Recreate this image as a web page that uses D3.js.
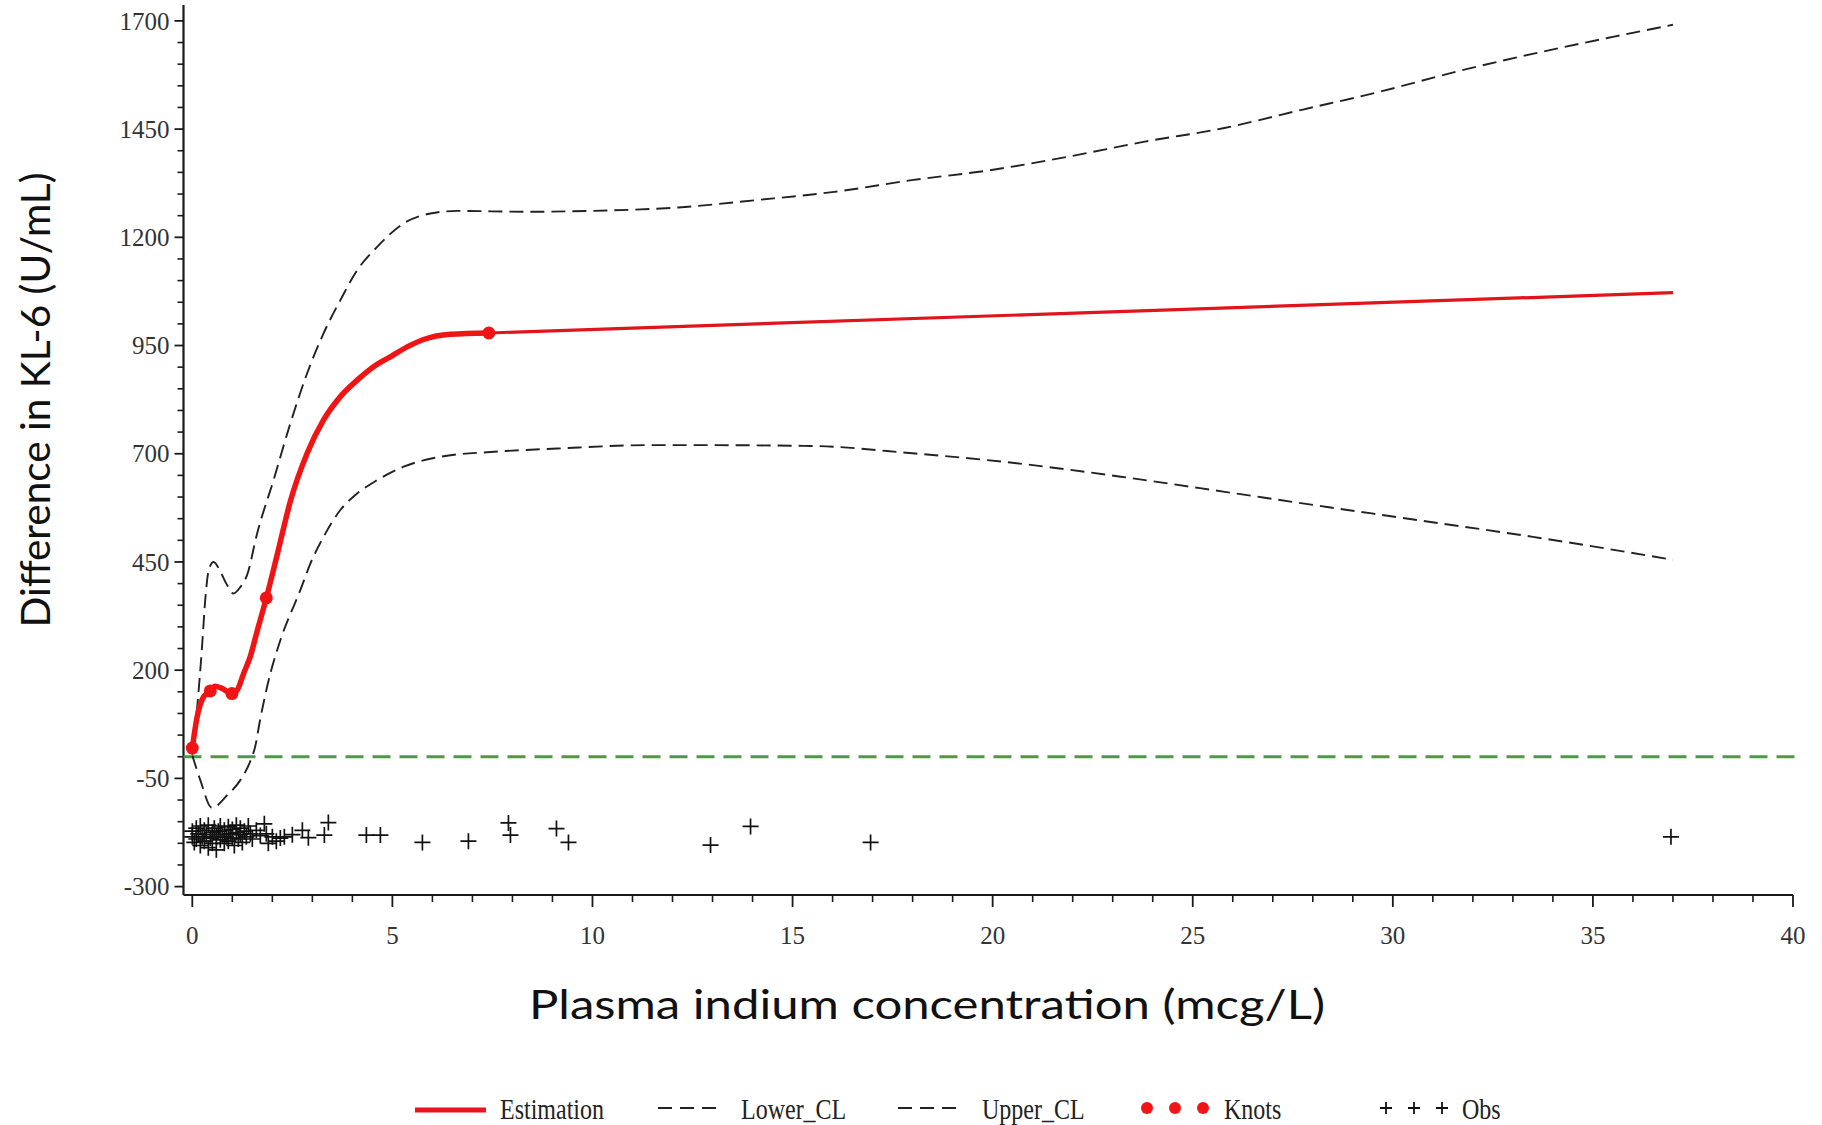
<!DOCTYPE html>
<html>
<head>
<meta charset="utf-8">
<script src="https://cdn.jsdelivr.net/npm/d3@7"></script>
<style>
  html, body { margin: 0; padding: 0; background: #ffffff; }
  svg { display: block; }
</style>
</head>
<body>
<script>
// ---------------- DATA ----------------
const xTickValues = [0, 5, 10, 15, 20, 25, 30, 35, 40];
const yTickValues = [-300, -50, 200, 450, 700, 950, 1200, 1450, 1700];

// Estimation curve (x, value)
const estX = [0, 0.12, 0.28, 0.41, 0.57, 0.74, 0.99, 1.12, 1.28, 1.45, 1.62, 1.85, 2.12, 2.45, 2.87, 3.28, 3.7, 4.12, 4.53, 4.95, 5.37, 5.78, 6.45, 7.41, 37];
const estY = [20, 92, 138, 148, 163, 158, 146, 154, 192, 232, 290, 367, 466, 590, 701, 778, 832, 870, 901, 924, 947, 964, 976, 979, 1072];

// Knots
const knotX = [0, 0.45, 0.99, 1.85, 7.41];
const knotY = [20, 152, 146, 367, 979];

// Upper confidence limit
const upperX = [0, 0.12, 0.24, 0.33, 0.41, 0.53, 0.7, 0.85, 1.03, 1.2, 1.37, 1.62, 2.03, 2.45, 2.87, 3.28, 3.7, 4.12, 4.62, 5.28, 5.95, 6.62, 8.28, 9.95, 12.15, 14.1, 16.04, 17.98, 19.93, 21.87, 23.8, 25.76, 27.7, 29.66, 31.6, 33.55, 35.5, 37];
const upperY = [5, 112, 250, 370, 431, 450, 428, 400, 377, 392, 420, 516, 639, 770, 886, 978, 1055, 1124, 1178, 1232, 1255, 1261, 1259, 1261, 1269, 1286, 1305, 1332, 1355, 1386, 1421, 1452, 1494, 1536, 1583, 1625, 1663, 1691];

// Lower confidence limit
const lowerX = [0, 0.2, 0.49, 0.87, 1.2, 1.45, 1.57, 1.7, 1.95, 2.2, 2.7, 2.95, 3.28, 3.7, 4.12, 4.62, 5.28, 6.2, 7.45, 9.12, 11.45, 12.35, 15.45, 18.0, 20.6, 23.2, 25.8, 28.36, 30.9, 33.5, 37];
const lowerY = [3, -54, -118, -89, -54, -10, 23, 88, 192, 269, 385, 446, 508, 570, 608, 639, 670, 693, 704, 712, 720, 720, 718, 701, 678, 647, 612, 577, 543, 508, 455];

// Observations
const obsX = [0.0, 0.0, 0.05, 0.1, 0.1, 0.15, 0.2, 0.2, 0.25, 0.3, 0.3, 0.35, 0.4, 0.4, 0.45, 0.5, 0.5, 0.55, 0.6, 0.6,
  0.65, 0.7, 0.7, 0.75, 0.8, 0.8, 0.85, 0.9, 0.9, 0.95, 1.0, 1.0, 1.05, 1.1, 1.1, 1.15, 1.2, 1.2, 1.25, 1.3,
  1.35, 1.4, 1.45, 1.5, 1.6, 1.7, 1.8, 1.85, 1.9, 2.0, 2.1, 2.2, 2.3, 2.5, 2.75, 2.9, 3.3, 3.4,
  4.35, 4.7, 5.75, 6.9, 7.9, 7.95, 9.1, 9.4, 12.95, 13.95, 16.95, 36.95];
const obsY = [-185, -172, -198, -165, -190, -178, -205, -160, -185, -170, -195, -180, -210, -158, -188, -175, -200, -165, -185, -215,
  -172, -192, -160, -180, -200, -170, -185, -162, -195, -178, -188, -168, -205, -175, -158, -190, -180, -165, -198, -172,
  -185, -160, -178, -190, -170, -182, -155, -178, -200, -185, -195, -188, -185, -180, -170, -187, -181, -152,
  -181, -181, -198, -195, -153, -181, -166, -198, -204, -161, -198, -185];

const referenceValue = [0];
const legendLabels = ["Estimation", "Lower_CL", "Upper_CL", "Knots", "Obs"];
const xTitle = "Plasma indium concentration (mcg/L)";
const yTitle = "Difference in KL-6 (U/mL)";

// ---------------- DRAW ----------------
const W = 1822, H = 1125;
const svg = d3.select("body").append("svg").attr("width", W).attr("height", H)
  .style("background", "#fff");

const x = d3.scaleLinear().domain([-0.22, 40]).range([183.5, 1793]);
const y = d3.scaleLinear().domain([-319.4, 1736.7]).range([895, 5]);

const serif = "'Liberation Serif', 'Times New Roman', serif";
const sans = "Lato, 'Open Sans', sans-serif";
const axisColor = "#1a1a1a";

// Y axis
const yAxis = svg.append("g").attr("transform", `translate(${x(-0.22)},0)`);
yAxis.append("line").attr("x1", 0).attr("x2", 0).attr("y1", y(1736.7)).attr("y2", y(-319.4))
  .attr("stroke", axisColor).attr("stroke-width", 2.2);
const yMinor = d3.range(-300, 1701, 50).filter(v => !yTickValues.includes(v));
yAxis.selectAll(".ymin").data(yMinor).enter().append("line")
  .attr("x1", -6).attr("x2", 0).attr("y1", d => y(d)).attr("y2", d => y(d))
  .attr("stroke", axisColor).attr("stroke-width", 1.6);
yAxis.selectAll(".ymaj").data(yTickValues).enter().append("line")
  .attr("x1", -9).attr("x2", 0).attr("y1", d => y(d)).attr("y2", d => y(d))
  .attr("stroke", axisColor).attr("stroke-width", 1.8);
yAxis.selectAll(".ylab").data(yTickValues).enter().append("text")
  .attr("x", -14).attr("y", d => y(d)).attr("dy", "0.35em")
  .attr("text-anchor", "end").attr("font-family", serif).attr("font-size", 25)
  .attr("fill", "#333").text(d => d);

// X axis
const xAxis = svg.append("g").attr("transform", `translate(0,${y(-319.4)})`);
xAxis.append("line").attr("x1", x(-0.22)).attr("x2", x(40)).attr("y1", 0).attr("y2", 0)
  .attr("stroke", axisColor).attr("stroke-width", 2.2);
const xMinor = d3.range(0, 41, 1).filter(v => !xTickValues.includes(v));
xAxis.selectAll(".xmin").data(xMinor).enter().append("line")
  .attr("x1", d => x(d)).attr("x2", d => x(d)).attr("y1", 0).attr("y2", 7)
  .attr("stroke", axisColor).attr("stroke-width", 1.6);
xAxis.selectAll(".xmaj").data(xTickValues).enter().append("line")
  .attr("x1", d => x(d)).attr("x2", d => x(d)).attr("y1", 0).attr("y2", 12)
  .attr("stroke", axisColor).attr("stroke-width", 1.8);
xAxis.selectAll(".xlab").data(xTickValues).enter().append("text")
  .attr("x", d => x(d)).attr("y", 49)
  .attr("text-anchor", "middle").attr("font-family", serif).attr("font-size", 25)
  .attr("fill", "#333").text(d => d);

// Axis titles
svg.append("text").attr("x", 927).attr("y", 1019).attr("text-anchor", "middle")
  .attr("font-family", sans).attr("font-size", 40).attr("fill", "#111")
  .attr("textLength", 796).attr("lengthAdjust", "spacingAndGlyphs").text(xTitle);
svg.append("text").attr("transform", "translate(50,400) rotate(-90)").attr("text-anchor", "middle")
  .attr("font-family", sans).attr("font-size", 40).attr("fill", "#111")
  .attr("textLength", 455).attr("lengthAdjust", "spacingAndGlyphs").text(yTitle);

// Reference line at 0
svg.selectAll(".ref").data(referenceValue).enter().append("line")
  .attr("x1", x(-0.22)).attr("x2", x(40.05)).attr("y1", d => y(d)).attr("y2", d => y(d))
  .attr("stroke", "#4b9b44").attr("stroke-width", 3.2).attr("stroke-dasharray", "18,9");

const line = d3.line().x(d => x(d[0])).y(d => y(d[1])).curve(d3.curveMonotoneX);

// Confidence limits
const upper = upperX.map((v, i) => [v, upperY[i]]);
const lower = lowerX.map((v, i) => [v, lowerY[i]]);
[upper, lower].forEach(data => {
  svg.append("path").datum(data).attr("d", line).attr("fill", "none")
    .attr("stroke", "#222").attr("stroke-width", 1.9).attr("stroke-dasharray", "14,7");
});

// Observations (plus markers)
const obs = obsX.map((v, i) => [v, obsY[i]]);
svg.selectAll(".obs").data(obs).enter().append("path")
  .attr("transform", d => `translate(${x(d[0])},${y(d[1])})`)
  .attr("d", "M-8,0H8M0,-8V8").attr("stroke", "#111").attr("stroke-width", 1.7).attr("fill", "none");

// Estimation
const est = estX.map((v, i) => [v, estY[i]]);
const lastKnot = knotX[knotX.length - 1];
const estCurve = est.filter(d => d[0] <= lastKnot);
const estLinear = est.filter(d => d[0] >= lastKnot);
svg.append("path").datum(estLinear).attr("d", line).attr("fill", "none")
  .attr("stroke", "#e0141a").attr("stroke-width", 3.2);
svg.append("path").datum(estCurve).attr("d", line).attr("fill", "none")
  .attr("stroke", "#f01414").attr("stroke-width", 5.5).attr("stroke-linejoin", "round").attr("stroke-linecap", "round");

// Knots
const knots = knotX.map((v, i) => [v, knotY[i]]);
svg.selectAll(".knot").data(knots).enter().append("circle")
  .attr("cx", d => x(d[0])).attr("cy", d => y(d[1])).attr("r", 6.5).attr("fill", "#f01414");

// Legend
const lg = svg.append("g").attr("font-family", serif).attr("font-size", 24).attr("fill", "#222");
const ly = 1110;
function ltext(px, label) {
  lg.append("text").attr("transform", `translate(${px},${ly + 9}) scale(1,1.2)`).text(label);
}
lg.append("line").attr("x1", 415).attr("x2", 486).attr("y1", ly).attr("y2", ly)
  .attr("stroke", "#e8161c").attr("stroke-width", 5);
ltext(500, legendLabels[0]);
lg.append("line").attr("x1", 658).attr("x2", 716).attr("y1", ly - 2).attr("y2", ly - 2)
  .attr("stroke", "#222").attr("stroke-width", 2).attr("stroke-dasharray", "14,8");
ltext(741, legendLabels[1]);
lg.append("line").attr("x1", 898).attr("x2", 962).attr("y1", ly - 2).attr("y2", ly - 2)
  .attr("stroke", "#222").attr("stroke-width", 2).attr("stroke-dasharray", "14,8");
ltext(982, legendLabels[2]);
[1147, 1175, 1203].forEach(cx => lg.append("circle").attr("cx", cx).attr("cy", ly - 2).attr("r", 6).attr("fill", "#f01414"));
ltext(1224, legendLabels[3]);
[1386, 1414, 1442].forEach(cx => lg.append("path").attr("transform", `translate(${cx},${ly - 2})`)
  .attr("d", "M-6,0H6M0,-6V6").attr("stroke", "#111").attr("stroke-width", 1.8));
ltext(1462, legendLabels[4]);
</script>
</body>
</html>
